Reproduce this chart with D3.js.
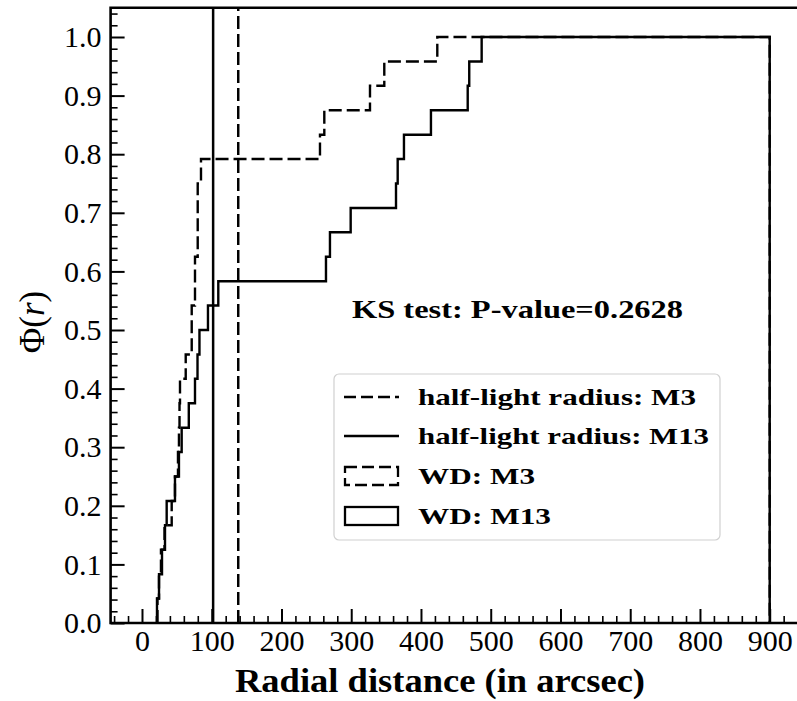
<!DOCTYPE html>
<html>
<head>
<meta charset="utf-8">
<script src="https://cdn.jsdelivr.net/npm/d3@7"></script>
<style>
  html, body { margin: 0; padding: 0; background: #fff; }
  svg { display: block; }
  text { font-family: "Liberation Serif", "DejaVu Serif", serif; fill: #000; }
</style>
</head>
<body>
<svg id="chart" width="797" height="701"></svg>
<script>
// ---- Data ----
// Cumulative step histogram of WD radial distances (arcsec) : x where Phi rises, Phi after rise
const m3StepX   = [22.2, 24.4, 27.2, 32.3, 42.6, 47.3, 51.6, 53.0, 53.8, 54.5, 62.7, 71.3, 76.0, 79.9, 84.6, 255.2, 261.4, 326.9, 347.4, 423.4];
const m3StepPhi = [0.0417, 0.0833, 0.125, 0.1667, 0.2083, 0.25, 0.2917, 0.3333, 0.375, 0.4167, 0.4583, 0.5417, 0.625, 0.75, 0.7917, 0.8333, 0.875, 0.9167, 0.9583, 1.0];
const m13StepX   = [21.5, 24.4, 28.7, 33.0, 35.4, 47.3, 53.0, 56.9, 67.1, 76.0, 79.6, 82.4, 94.6, 109.4, 263.8, 269.5, 299.2, 364.2, 366.6, 375.6, 414.3, 467.0, 469.2, 487.0];
const m13StepPhi = [0.0417, 0.0833, 0.125, 0.1667, 0.2083, 0.25, 0.2917, 0.3333, 0.375, 0.4167, 0.4583, 0.5, 0.5417, 0.5833, 0.625, 0.6667, 0.7083, 0.75, 0.7917, 0.8333, 0.875, 0.9167, 0.9583, 1.0];
const histEnd = 900;
const halfLightM3 = 138;
const halfLightM13 = 102;
const xTicks = [0, 100, 200, 300, 400, 500, 600, 700, 800, 900];
const yTicks = [0.0, 0.1, 0.2, 0.3, 0.4, 0.5, 0.6, 0.7, 0.8, 0.9, 1.0];
const legendLabels = ["half-light radius: M3", "half-light radius: M13", "WD: M3", "WD: M13"];
const ksText = "KS test: P-value=0.2628";
const xTitle = "Radial distance (in arcsec)";

// ---- Layout ----
const svg = d3.select("#chart");
const x = d3.scaleLinear().domain([-45, 945]).range([110.6, 801.1]);
const y = d3.scaleLinear().domain([0, 1.05]).range([623, 7.7]);
const DASH = "13,5";

svg.append("clipPath").attr("id", "clip").append("rect")
  .attr("x", x(-45)).attr("y", y(1.05)).attr("width", x(945) - x(-45)).attr("height", y(0) - y(1.05));

const plot = svg.append("g").attr("clip-path", "url(#clip)");

function stepPoints(xs, ps) {
  const pts = [[xs[0], 0]];
  let prev = 0;
  xs.forEach((xv, i) => { pts.push([xv, prev]); pts.push([xv, ps[i]]); prev = ps[i]; });
  pts.push([histEnd, prev]);
  pts.push([histEnd, 0]);
  return pts;
}
const line = d3.line().x(d => x(d[0])).y(d => y(d[1]));

// half-light radius lines
plot.append("line").attr("x1", x(halfLightM3)).attr("x2", x(halfLightM3)).attr("y1", y(0)).attr("y2", y(1.05))
  .attr("stroke", "#000").attr("stroke-width", 2.5).attr("stroke-dasharray", DASH);
plot.append("line").attr("x1", x(halfLightM13)).attr("x2", x(halfLightM13)).attr("y1", y(0)).attr("y2", y(1.05))
  .attr("stroke", "#000").attr("stroke-width", 2.5);

// histograms
plot.append("path").datum(stepPoints(m3StepX, m3StepPhi)).attr("d", line)
  .attr("fill", "none").attr("stroke", "#000").attr("stroke-width", 2.4).attr("stroke-dasharray", DASH);
plot.append("path").datum(stepPoints(m13StepX, m13StepPhi)).attr("d", line)
  .attr("fill", "none").attr("stroke", "#000").attr("stroke-width", 2.4);

// ---- Axes ----
const xMinor = d3.range(-40, 945, 20).filter(v => v % 100 !== 0);
const yMinor = d3.range(0, 1.051, 0.02).filter(v => Math.abs(Math.round(v * 10) - v * 10) > 1e-6);

const gx = svg.append("g").attr("transform", `translate(0,${y(0)})`);
gx.call(d3.axisBottom(x).tickValues(xTicks).tickSize(-14).tickPadding(7).tickFormat(d3.format("d")));
gx.call(g => g.select(".domain").remove());
gx.selectAll(".tick line").attr("stroke-width", 2);
gx.selectAll(".tick text").attr("font-size", 30).attr("font-family", "Liberation Serif");
const gxm = svg.append("g").attr("transform", `translate(0,${y(0)})`);
gxm.call(d3.axisBottom(x).tickValues(xMinor).tickSize(-7).tickFormat(""));
gxm.call(g => g.select(".domain").remove());
gxm.selectAll(".tick line").attr("stroke-width", 1.6);

const gy = svg.append("g").attr("transform", `translate(${x(-45)},0)`);
gy.call(d3.axisLeft(y).tickValues(yTicks).tickSize(-14).tickPadding(9).tickFormat(d3.format(".1f")));
gy.call(g => g.select(".domain").remove());
gy.selectAll(".tick line").attr("stroke-width", 2);
gy.selectAll(".tick text").attr("font-size", 30).attr("font-family", "Liberation Serif");
const gym = svg.append("g").attr("transform", `translate(${x(-45)},0)`);
gym.call(d3.axisLeft(y).tickValues(yMinor).tickSize(-7).tickFormat(""));
gym.call(g => g.select(".domain").remove());
gym.selectAll(".tick line").attr("stroke-width", 1.6);

// spines
svg.append("path")
  .attr("d", `M${x(945)},${y(1.05)}H${x(-45)}V${y(0)}H${x(945)}`)
  .attr("fill", "none").attr("stroke", "#000").attr("stroke-width", 2.6);

// axis titles
svg.append("text").attr("x", 440).attr("y", 692).attr("text-anchor", "middle")
  .attr("font-size", 33).attr("font-weight", "bold")
  .attr("textLength", 410).attr("lengthAdjust", "spacingAndGlyphs").text(xTitle);
const yl = svg.append("text").attr("transform", "translate(44,322) rotate(-90)").attr("text-anchor", "middle")
  .attr("font-size", 35);
yl.append("tspan").text("Φ(");
yl.append("tspan").attr("font-style", "italic").text("r");
yl.append("tspan").text(")");

// KS text
svg.append("text").attr("x", 352).attr("y", 318)
  .attr("font-size", 25).attr("font-weight", "bold")
  .attr("textLength", 331).attr("lengthAdjust", "spacingAndGlyphs").text(ksText);

// ---- Legend ----
const lg = svg.append("g");
lg.append("rect").attr("x", 334).attr("y", 374).attr("width", 386).attr("height", 166).attr("rx", 5)
  .attr("fill", "#fff").attr("fill-opacity", 0.8).attr("stroke", "#d0d0d0").attr("stroke-width", 1.2);
const rowY = [397, 436, 476, 516];
const legendWidths = [278, 291, 117, 133];
lg.append("line").attr("x1", 344).attr("x2", 399).attr("y1", rowY[0]).attr("y2", rowY[0])
  .attr("stroke", "#000").attr("stroke-width", 2.5).attr("stroke-dasharray", "12,5");
lg.append("line").attr("x1", 344).attr("x2", 399).attr("y1", rowY[1]).attr("y2", rowY[1])
  .attr("stroke", "#000").attr("stroke-width", 2.5);
lg.append("rect").attr("x", 345).attr("y", rowY[2] - 9).attr("width", 53).attr("height", 18)
  .attr("fill", "none").attr("stroke", "#000").attr("stroke-width", 2.3).attr("stroke-dasharray", "12,5");
lg.append("rect").attr("x", 345).attr("y", rowY[3] - 9).attr("width", 53).attr("height", 18)
  .attr("fill", "none").attr("stroke", "#000").attr("stroke-width", 2.3);
legendLabels.forEach((t, i) => {
  lg.append("text").attr("x", 418).attr("y", rowY[i] + 8).attr("font-size", 24).attr("font-weight", "bold")
    .attr("textLength", legendWidths[i]).attr("lengthAdjust", "spacingAndGlyphs").text(t);
});
</script>
</body>
</html>
